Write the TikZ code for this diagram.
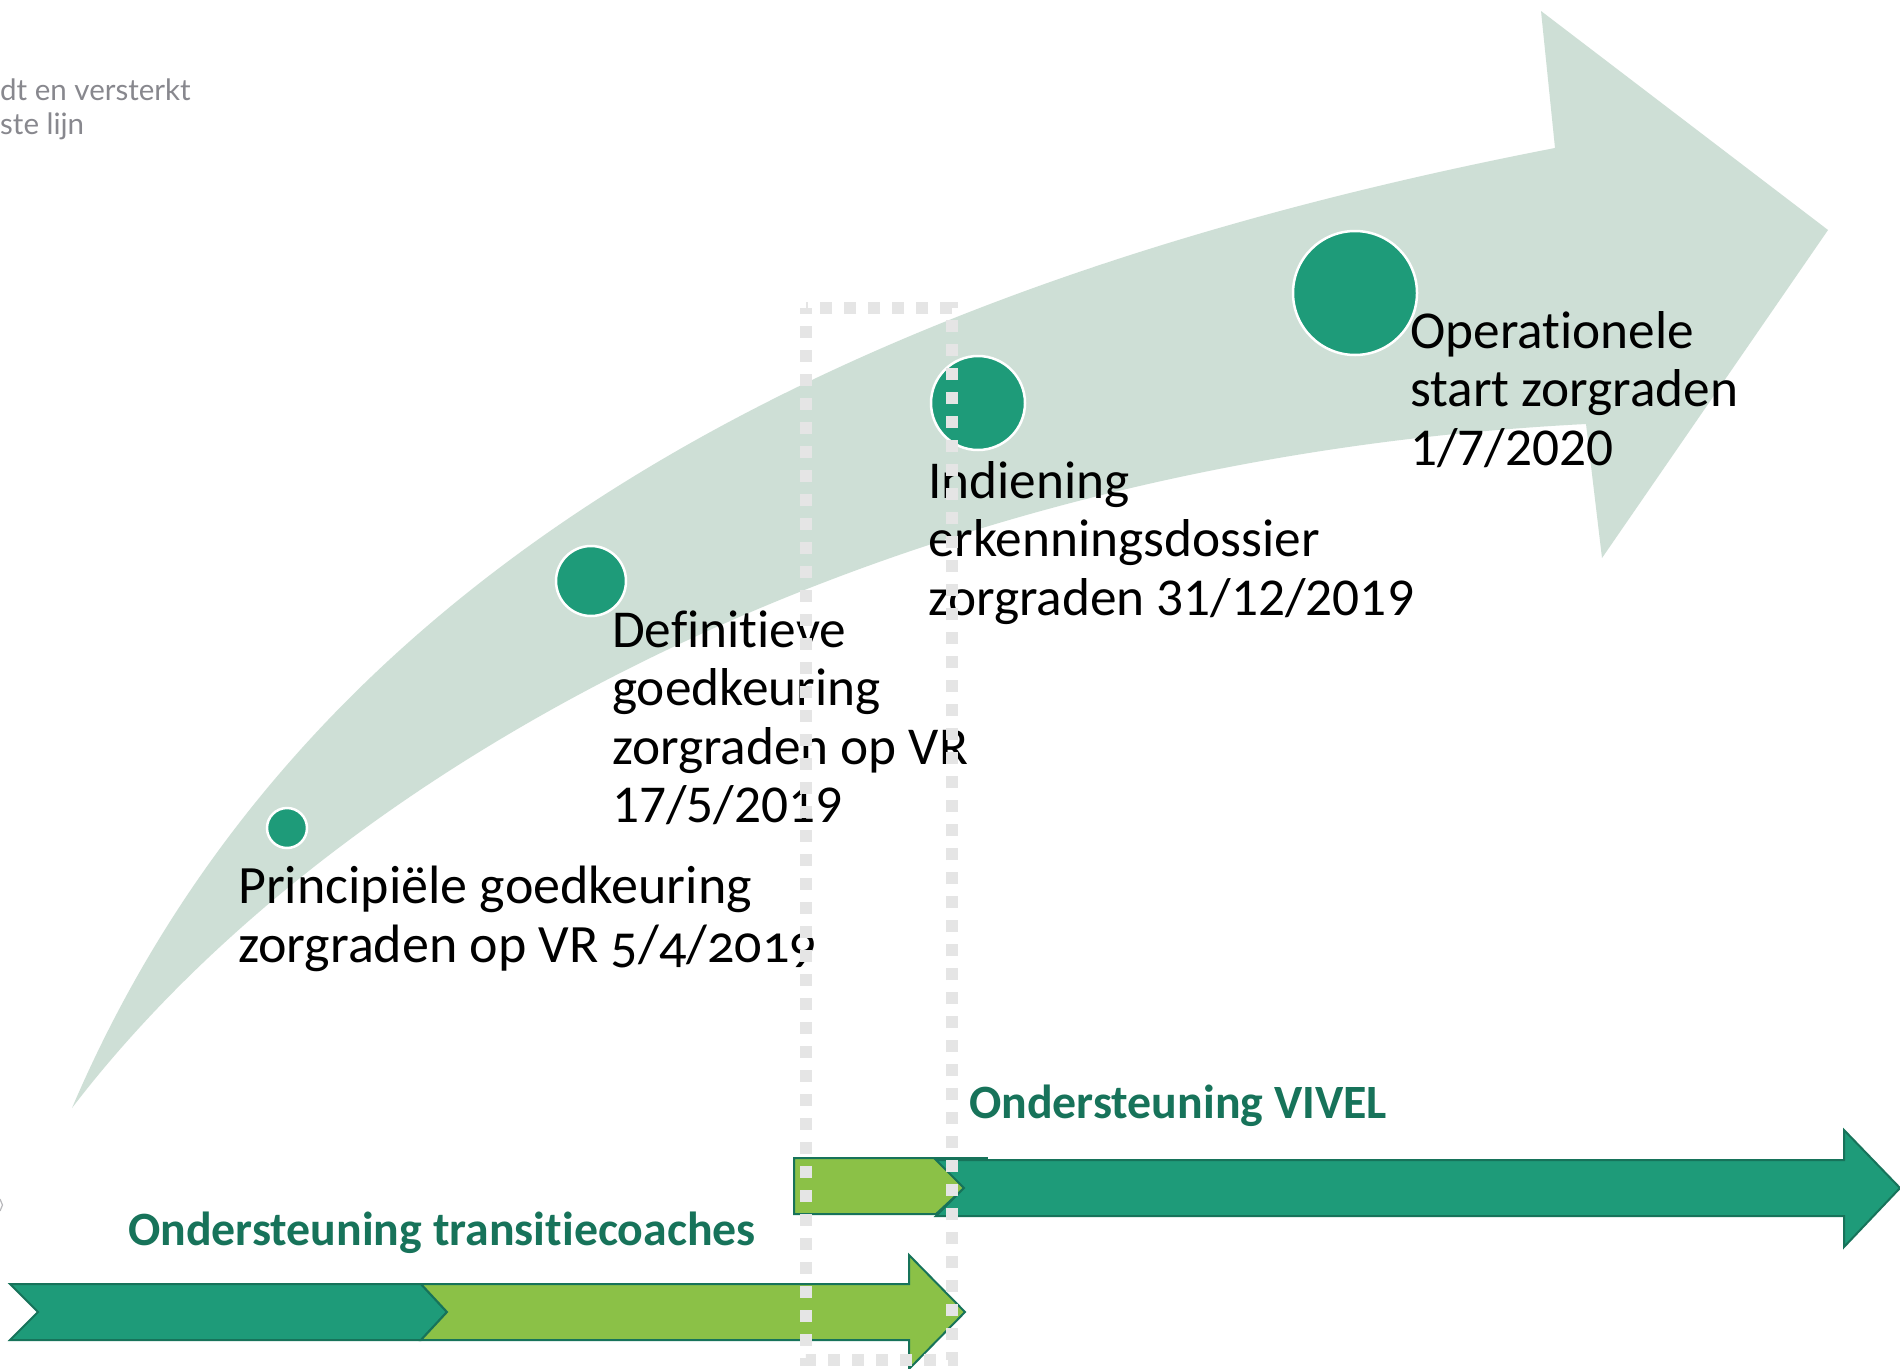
\documentclass[tikz,border=0pt]{standalone}
\usepackage{fontspec}
\setmainfont{Carlito}[Ligatures=NoCommon]
\newfontfamily\oldstyle{Carlito}[Numbers=OldStyle,Ligatures=NoCommon]
\newfontfamily\grayfont{Lato}
\definecolor{bigarrow}{HTML}{CEDFD6}
\definecolor{dkgreen}{HTML}{1E9B79}
\definecolor{ltgreen}{HTML}{8BC147}
\definecolor{outl}{HTML}{17735A}
\definecolor{labelgreen}{HTML}{17735A}
\definecolor{dotgray}{HTML}{E5E5E5}
\definecolor{greytext}{HTML}{88888E}
\begin{document}
\begin{tikzpicture}[x=1pt,y=-1pt,
  milestone/.style={circle, fill=dkgreen, draw=white, line width=2.5pt, inner sep=0pt, minimum size=#1},
  mtext/.style={anchor=base west, inner sep=0pt, font=\fontsize{53.3}{58.5}\selectfont, text=black},
  barlabel/.style={anchor=base west, inner sep=0pt, font=\fontsize{47.8}{56}\selectfont\bfseries, text=labelgreen},
  bar/.style={draw=outl, line width=2pt, line join=miter},
  dotframe/.style={draw=dotgray, line width=12pt, dash pattern=on 12pt off 12pt, dash phase=6pt}
]
\useasboundingbox (0,0) rectangle (1900,1368);
\fill[white] (0,0) rectangle (1900,1368);

% big curved arrow
\fill[bigarrow] (72,1108) .. controls (285,610) and (770,300) .. (1555,148)
  -- (1541,11) -- (1828,230) -- (1602,558) -- (1586,424)
  .. controls (880,460) and (330,770) .. (72,1108) -- cycle;

% top-left grey text
\node[anchor=base west, inner sep=0pt, font=\grayfont\fontsize{29.5}{34}\selectfont, text=greytext] (grey) at (0,100)
  {\vtop{\hbox{dt en versterkt}\hbox{ste lijn}}};
\draw[greytext!60, line width=1.2pt] (0,1199) -- (2.5,1205) -- (0,1211);

% milestones
\node[milestone=40pt] (m1) at (287,828) {};
\node[milestone=70pt] (m2) at (591,581) {};
\node[milestone=94pt] (m3) at (978,403) {};
\node[milestone=124pt] (m4) at (1355,293) {};

\node[mtext, font=\oldstyle\fontsize{54}{59}\selectfont] (t1) at (238,903)
  {\vtop{\hbox{Principiële goedkeuring}\hbox{zorgraden op VR 5/4/2019}}};
\node[mtext] (t2) at (612,647)
  {\vtop{\hbox{Definitieve}\hbox{goedkeuring}\hbox{zorgraden op VR}\hbox{17/5/2019}}};
\node[mtext] (t3) at (928,498)
  {\vtop{\hbox{Indiening}\hbox{erkenningsdossier}\hbox{zorgraden 31/12/2019}}};
\node[mtext] (t4) at (1410,348)
  {\vtop{\hbox{Operationele}\hbox{start zorgraden}\hbox{1/7/2020}}};

% bottom bars
\node[barlabel] (lvivel) at (969,1118) {Ondersteuning VIVEL};
\node[barlabel] (ltrans) at (128,1245) {Ondersteuning transitiecoaches};

\filldraw[bar, fill=ltgreen] (794,1158) -- (936,1158) -- (964,1188) -- (936,1214) -- (794,1214) -- cycle;
\filldraw[bar, fill=dkgreen] (936,1160) -- (1844,1160) -- (1844,1130) -- (1900,1188) -- (1844,1247)
  -- (1844,1216) -- (936,1216) -- (964,1188) -- cycle;
\draw[outl, line width=2pt] (936,1158) -- (988,1158);

\filldraw[bar, fill=dkgreen] (10,1284) -- (421,1284) -- (447,1312) -- (421,1340) -- (10,1340) -- (38,1312) -- cycle;
\filldraw[bar, fill=ltgreen] (421,1284) -- (909,1284) -- (909,1255) -- (965,1312) -- (909,1369)
  -- (909,1340) -- (421,1340) -- (447,1312) -- cycle;

% dotted frame on top
\draw[dotframe] (806,308) rectangle (952,1360);
\end{tikzpicture}
\end{document}
